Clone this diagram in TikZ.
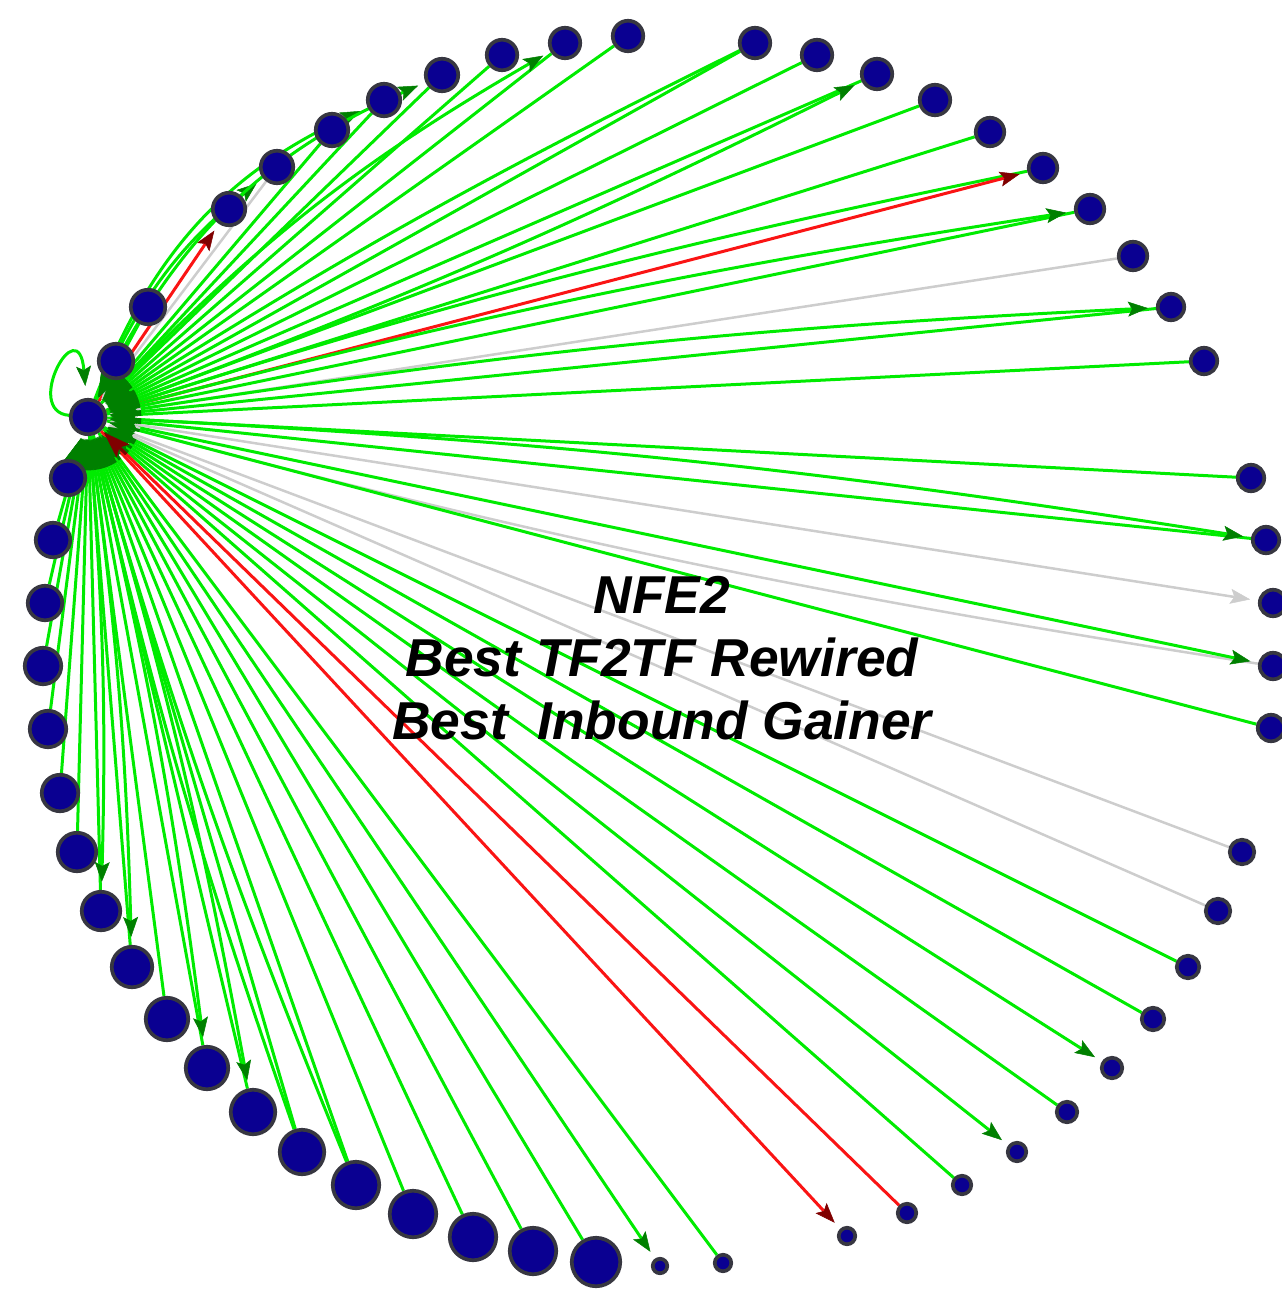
\documentclass[tikz,border=0pt]{standalone}
\usepackage{fontspec}
\newfontfamily\captionfont{Liberation Sans}
\usetikzlibrary{arrows.meta}
\usetikzlibrary{backgrounds}
\usetikzlibrary{calc}

\definecolor{lgreen}{RGB}{0,235,0}
\definecolor{dgreen}{RGB}{0,128,0}
\definecolor{lred}{RGB}{250,20,20}
\definecolor{dred}{RGB}{128,0,0}
\definecolor{lgrey}{RGB}{205,205,205}
\definecolor{nodeblue}{RGB}{10,0,145}
\definecolor{nodeedge}{RGB}{55,55,65}

\tikzset{
tipg/.tip={Stealth[length=6pt,width=4.5pt,inset=1.2pt,line width=0.15pt,color=dgreen]},
tipr/.tip={Stealth[length=6pt,width=4.5pt,inset=1.2pt,line width=0.15pt,color=dred]},
tipk/.tip={Stealth[length=6pt,width=4.5pt,inset=1.2pt,line width=0.15pt,color=lgrey]},
hubg/.tip={Stealth[length=8pt,width=5.5pt,inset=1.5pt,line width=0.15pt,color=dgreen]},
hubr/.tip={Stealth[length=8pt,width=5.5pt,inset=1.5pt,line width=0.15pt,color=dred]},
hubk/.tip={Stealth[length=8pt,width=5.5pt,inset=1.5pt,line width=0.15pt,color=lgrey]}
}

\begin{document}
\begin{tikzpicture}[
x=0.3pt, y=-0.3pt,
gene/.style ={circle, draw=nodeedge, line width=1.1pt, fill=nodeblue,
  inner sep=0pt, minimum size=#1},
title/.style ={align=center, font=\captionfont\bfseries\itshape\fontsize{16}{18.9}\selectfont},
greenout/.style ={draw=lgreen, line width=0.9pt, -tipg, shorten >=2.4pt},
greenin/.style ={draw=lgreen, line width=0.9pt, hubg-, shorten <=0.9pt},
redout/.style ={draw=lred, line width=0.9pt, -tipr, shorten >=2.4pt},
redin/.style ={draw=lred, line width=0.9pt, hubr-, shorten <=0.9pt},
greyout/.style ={draw=lgrey, line width=0.75pt, -tipk, shorten >=2.4pt},
greyin/.style ={draw=lgrey, line width=0.75pt, hubk-, shorten <=0.9pt},
headonly/.style ={to path={(\tikztostart) -- ($(\tikztostart)!16pt!(\tikztotarget)$)}},
greenhead/.style ={greenin, draw=dgreen, headonly},
redhead/.style ={redin, draw=dred, headonly},
greyhead/.style ={greyin, headonly}
]
\useasboundingbox (0,0) rectangle (1281,1297);

\node[gene=10.35pt] (hub) at (88,417) {};
\node[gene=10.35pt] (n1) at (116,361) {};
\node[gene=10.35pt] (n2) at (148,307) {};
\node[gene=9.75pt] (n3) at (229,209) {};
\node[gene=9.75pt] (n4) at (277,167) {};
\node[gene=9.75pt] (n5) at (332,130) {};
\node[gene=9.75pt] (n6) at (384,100) {};
\node[gene=9.75pt] (n7) at (442,75) {};
\node[gene=9.15pt] (n8) at (502,55) {};
\node[gene=9.15pt] (n9) at (565,43) {};
\node[gene=9.15pt] (n10) at (628,36) {};
\node[gene=9.15pt] (n11) at (755,43) {};
\node[gene=9.15pt] (n12) at (817,55) {};
\node[gene=9.15pt] (n13) at (877,74) {};
\node[gene=9.15pt] (n14) at (935,100) {};
\node[gene=8.55pt] (n15) at (990,132) {};
\node[gene=8.55pt] (n16) at (1043,168) {};
\node[gene=8.55pt] (n17) at (1090,209) {};
\node[gene=8.55pt] (n18) at (1133,256) {};
\node[gene=7.95pt] (n19) at (1171,307) {};
\node[gene=7.95pt] (n20) at (1204,361) {};
\node[gene=7.95pt] (n21) at (1251,478) {};
\node[gene=7.95pt] (n22) at (1266,540) {};
\node[gene=7.95pt] (n23) at (1273,603) {};
\node[gene=7.95pt] (n24) at (1273,666) {};
\node[gene=7.95pt] (n25) at (1271,728) {};
\node[gene=7.35pt] (n26) at (1242,852) {};
\node[gene=7.35pt] (n27) at (1218,911) {};
\node[gene=6.75pt] (n28) at (1188,967) {};
\node[gene=6.75pt] (n29) at (1153,1019) {};
\node[gene=6.15pt] (n30) at (1112,1068) {};
\node[gene=6.15pt] (n31) at (1067,1112) {};
\node[gene=5.55pt] (n32) at (1017,1152) {};
\node[gene=5.55pt] (n33) at (962,1185) {};
\node[gene=5.55pt] (n34) at (907,1213) {};
\node[gene=4.95pt] (n35) at (847,1236) {};
\node[gene=4.95pt] (n36) at (723,1263) {};
\node[gene=4.35pt] (n37) at (660,1266) {};
\node[gene=14.55pt] (n38) at (596,1262) {};
\node[gene=13.95pt] (n39) at (533,1251) {};
\node[gene=13.95pt] (n40) at (473,1237) {};
\node[gene=13.95pt] (n41) at (413,1214) {};
\node[gene=13.95pt] (n42) at (356,1185) {};
\node[gene=13.35pt] (n43) at (302,1152) {};
\node[gene=13.35pt] (n44) at (253,1112) {};
\node[gene=12.75pt] (n45) at (207,1068) {};
\node[gene=12.75pt] (n46) at (167,1019) {};
\node[gene=12.15pt] (n47) at (132,967) {};
\node[gene=11.55pt] (n48) at (101,911) {};
\node[gene=11.55pt] (n49) at (77,852) {};
\node[gene=10.95pt] (n50) at (60,793) {};
\node[gene=10.95pt] (n51) at (48,729) {};
\node[gene=10.95pt] (n52) at (43,666) {};
\node[gene=10.35pt] (n53) at (45,603) {};
\node[gene=10.35pt] (n54) at (53,540) {};
\node[gene=10.35pt] (n55) at (68,478) {};

\node[title] (caption) at (662,658) {NFE2\\Best TF2TF Rewired\\Best\ \ Inbound Gainer};

\begin{scope}[on background layer]
% all the lines
\path
(hub) edge[greenout, out=175, in=95, out distance=14pt, in distance=27pt, shorten >=3.6pt] (hub)
(hub) edge[greenin] (n1)
(hub) edge[greenin] (n2)
(hub) edge[redout] (n3)
(hub) edge[greyin] (n4)
(hub) edge[greenout, bend left=14] (n4)
(hub) edge[greenin] (n5)
(hub) edge[greenin] (n6)
(hub) edge[greenout, bend left=22] (n6)
(hub) edge[greenin] (n7)
(hub) edge[greenout, bend left=20] (n7)
(hub) edge[greenin] (n8)
(hub) edge[greenin] (n9)
(hub) edge[greenout, bend left=8] (n9)
(hub) edge[greenin] (n10)
(hub) edge[greenin] (n11)
(hub) edge[greenin, bend left=3] (n11)
(hub) edge[greenin] (n12)
(hub) edge[greenin] (n13)
(hub) edge[greenout, bend right=3] (n13)
(hub) edge[greenin] (n14)
(hub) edge[greenin] (n15)
(hub) edge[greenin, bend left=3] (n16)
(hub) edge[redout] (n16)
(hub) edge[greenin] (n17)
(hub) edge[greenout, bend left=3] (n17)
(hub) edge[greyin] (n18)
(hub) edge[greenin] (n19)
(hub) edge[greenout, bend left=3] (n19)
(hub) edge[greenin] (n20)
(hub) edge[greenin] (n21)
(hub) edge[greenin] (n22)
(hub) edge[greenout, bend left=3] (n22)
(hub) edge[greyout] (n23)
(hub) edge[greyin, bend right=3] (n24)
(hub) edge[greenout] (n24)
(hub) edge[greenin] (n25)
(hub) edge[greyin] (n26)
(hub) edge[greyin] (n27)
(hub) edge[greenin] (n28)
(hub) edge[greenin] (n29)
(hub) edge[greenout] (n30)
(hub) edge[greenin] (n31)
(hub) edge[greenout] (n32)
(hub) edge[greenin] (n33)
(hub) edge[redin] (n34)
(hub) edge[redout] (n35)
(hub) edge[greenin] (n36)
(hub) edge[greenout] (n37)
(hub) edge[greenin] (n38)
(hub) edge[greenin] (n39)
(hub) edge[greenin] (n40)
(hub) edge[greenin] (n41)
(hub) edge[greenin] (n42)
(hub) edge[greenin, bend right=3] (n42)
(hub) edge[greenin] (n43)
(hub) edge[greenin, bend right=3] (n43)
(hub) edge[greenin] (n44)
(hub) edge[greenout, bend left=3] (n44)
(hub) edge[greenin] (n45)
(hub) edge[greenout, bend left=3] (n45)
(hub) edge[greenin] (n46)
(hub) edge[greenin] (n47)
(hub) edge[greenout, bend left=3] (n47)
(hub) edge[greenin] (n48)
(hub) edge[greenout, bend left=3] (n48)
(hub) edge[greenin] (n49)
(hub) edge[greenin] (n50)
(hub) edge[greenin] (n51)
(hub) edge[greenin] (n52)
(hub) edge[greenin] (n53)
(hub) edge[greenin] (n54)
(hub) edge[greenin] (n55)
;
% heads at the hub, on top of the lines
\path
(hub) edge[greyhead] (n4)
(hub) edge[greyhead] (n18)
(hub) edge[greyhead] (n24)
(hub) edge[greyhead] (n26)
(hub) edge[greyhead] (n27)
(hub) edge[greenhead] (n1)
(hub) edge[greenhead] (n2)
(hub) edge[greenhead] (n5)
(hub) edge[greenhead] (n6)
(hub) edge[greenhead] (n7)
(hub) edge[greenhead] (n8)
(hub) edge[greenhead] (n9)
(hub) edge[greenhead] (n10)
(hub) edge[greenhead] (n11)
(hub) edge[greenhead] (n12)
(hub) edge[greenhead] (n13)
(hub) edge[greenhead] (n14)
(hub) edge[greenhead] (n15)
(hub) edge[greenhead] (n16)
(hub) edge[greenhead] (n17)
(hub) edge[greenhead] (n19)
(hub) edge[greenhead] (n20)
(hub) edge[greenhead] (n21)
(hub) edge[greenhead] (n22)
(hub) edge[greenhead] (n25)
(hub) edge[greenhead] (n28)
(hub) edge[greenhead] (n29)
(hub) edge[greenhead] (n31)
(hub) edge[greenhead] (n33)
(hub) edge[greenhead] (n36)
(hub) edge[greenhead] (n38)
(hub) edge[greenhead] (n39)
(hub) edge[greenhead] (n40)
(hub) edge[greenhead] (n41)
(hub) edge[greenhead] (n42)
(hub) edge[greenhead] (n43)
(hub) edge[greenhead] (n44)
(hub) edge[greenhead] (n45)
(hub) edge[greenhead] (n46)
(hub) edge[greenhead] (n47)
(hub) edge[greenhead] (n48)
(hub) edge[greenhead] (n49)
(hub) edge[greenhead] (n50)
(hub) edge[greenhead] (n51)
(hub) edge[greenhead] (n52)
(hub) edge[greenhead] (n53)
(hub) edge[greenhead] (n54)
(hub) edge[greenhead] (n55)
(hub) edge[redhead] (n34)
;
\end{scope}
\end{tikzpicture}
\end{document}
